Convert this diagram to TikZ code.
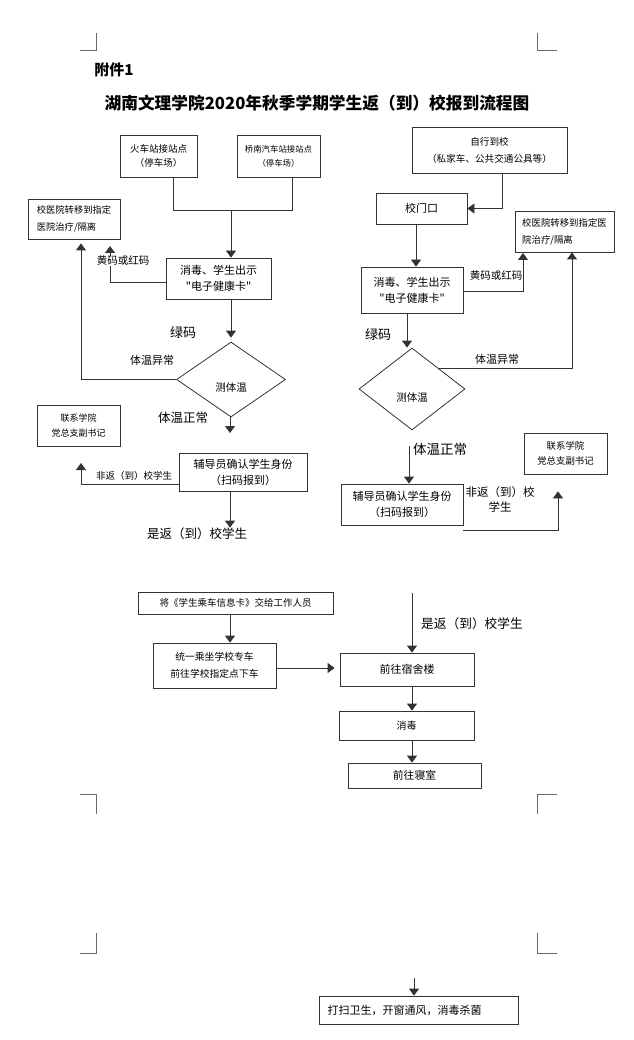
\documentclass[tikz,border=0pt]{standalone}
\usepackage{fontspec}
\setmainfont{Noto Sans CJK SC}[Ligatures=TeXOff]
\usetikzlibrary{arrows.meta, shapes.geometric}

\begin{document}
\begin{tikzpicture}[
  x=1pt, y=-1pt,
  box/.style={rectangle, draw=black!80, line width=0.8pt, align=center,
              inner sep=0pt, font=\fontsize{9.5}{14}\selectfont},
  dec/.style={diamond, draw=black!80, line width=0.8pt, inner sep=0pt},
  lbl/.style={inner sep=0pt, align=center},
  arr/.style={-{Triangle[width=10pt,length=7pt]}},
  line width=0.8pt, draw=black!80
]
\fill[white] (0,0) rectangle (633,1040);
\useasboundingbox (0,0) rectangle (633,1040);

% page corner marks
\draw[line width=0.6pt, black!60] (80,50) -- (96,50) -- (96,33);
\draw[line width=0.6pt, black!60] (557,50) -- (537,50) -- (537,33);
\draw[line width=0.6pt, black!60] (80,794) -- (96,794) -- (96,814);
\draw[line width=0.6pt, black!60] (557,794) -- (537,794) -- (537,814);
\draw[line width=0.6pt, black!60] (96,933) -- (96,953) -- (80,953);
\draw[line width=0.6pt, black!60] (537,933) -- (537,953) -- (557,953);

\node[lbl, anchor=west, font=\fontsize{15}{15}\selectfont\bfseries] (fj) at (94,70) {附件1};
\node[lbl, font=\fontsize{16.7}{17}\selectfont\bfseries] (title) at (317,103)
  {湖南文理学院2020年秋季学期学生返（到）校报到流程图};

\coordinate (cx) at (230,0);

% left column
\node[box, minimum width=77pt, minimum height=42pt] (hcz) at (158.5,156) {火车站接站点\\（停车场）};
\node[box, minimum width=83pt, minimum height=42pt, font=\fontsize{8.4}{14}\selectfont] (qnz) at (278.5,156) {桥南汽车站接站点\\（停车场）};
\node[box, minimum width=105pt, minimum height=41pt, font=\fontsize{11}{16}\selectfont] (xdL) at (218.5,278.5) {消毒、学生出示\\"电子健康卡"};
\node[box, minimum width=92pt, minimum height=40pt, align=left, font=\fontsize{9.3}{17}\selectfont] (yyL) at (74,219) {校医院转移到指定\\医院治疗/隔离};
\node[dec, minimum width=109pt, minimum height=75pt,
      label={[lbl, yshift=-8.5pt, font=\fontsize{10.5}{12}\selectfont]center:测体温}] (ceL) at (231,379.5) {};
\node[box, minimum width=128pt, minimum height=38pt, font=\fontsize{11}{16}\selectfont] (fdL) at (243,472) {辅导员确认学生身份\\（扫码报到）};
\node[box, minimum width=83pt, minimum height=41pt, font=\fontsize{9}{15}\selectfont] (lxL) at (78.5,425.5) {联系学院\\党总支副书记};

\coordinate (jL) at (231,210);
\coordinate (yL1) at (110,246);
\coordinate (aL) at (81,379.5);
\coordinate (zcL) at (230,433);
\coordinate (fL1) at (81,463);

\draw ([xshift=14.5pt]hcz.south) |- (jL);
\draw ([xshift=13.5pt]qnz.south) |- (jL);
\draw[arr] (jL) -- (jL |- xdL.north);
\draw[arr] ([yshift=-3.5pt]xdL.west) -| (yL1);
\node[lbl, fill=white, font=\fontsize{10.5}{12}\selectfont] (hmL) at (123,261) {黄码或红码};
\draw[arr, shorten >=4pt] (xdL.south -| jL) -- (ceL.north);
\node[lbl, font=\fontsize{13}{14}\selectfont] (lmL) at (183,333) {绿码};
\draw[arr, shorten >=4pt] (ceL.west) -- (aL) -- (aL |- yyL.south);
\node[lbl, font=\fontsize{11}{12}\selectfont] (ycL) at (152,360) {体温异常};
\draw[arr] (ceL.south -| zcL) -- (zcL);
\node[lbl, font=\fontsize{12.5}{13}\selectfont] (zcLt) at (183,418) {体温正常};
\draw[arr] ([yshift=-12pt]fdL.west) -| (fL1);
\node[lbl, font=\fontsize{9.5}{12}\selectfont] (ffL) at (134,476) {非返（到）校学生};
\node[lbl, font=\fontsize{12.5}{13}\selectfont] (sfL) at (197,534) {是返（到）校学生};
\draw[arr] (fdL.south -| cx) -- (sfL.north -| cx);

% right column
\node[box, minimum width=155pt, minimum height=46pt, font=\fontsize{9.6}{17}\selectfont] (zx) at (489.5,150) {自行到校\\（私家车、公共交通公具等）};
\node[box, minimum width=91pt, minimum height=31pt, font=\fontsize{11}{12}\selectfont] (xm) at (421.5,208.5) {校门口};
\node[box, minimum width=102pt, minimum height=46pt, font=\fontsize{11}{16}\selectfont] (xdR) at (412,290) {消毒、学生出示\\"电子健康卡"};
\node[box, minimum width=99pt, minimum height=41pt, align=left, font=\fontsize{9.4}{17}\selectfont] (yyR) at (564.5,231.5) {校医院转移到指定医\\院治疗/隔离};
\node[dec, minimum width=106pt, minimum height=82pt,
      label={[lbl, yshift=-9pt, font=\fontsize{10.5}{12}\selectfont]center:测体温}] (ceR) at (412,389) {};
\node[box, minimum width=122pt, minimum height=41pt, font=\fontsize{11}{16}\selectfont] (fdR) at (402,504.5) {辅导员确认学生身份\\（扫码报到）};
\node[box, minimum width=83pt, minimum height=41pt, font=\fontsize{9.4}{15}\selectfont] (lxR) at (565.5,453.5) {联系学院\\党总支副书记};

\coordinate (yR1) at (523,253);
\coordinate (zcR) at (409,446);
\coordinate (fR1) at (463,530);

\draw[arr] ([xshift=12.5pt]zx.south) |- (xm.east);
\draw[arr] ([xshift=-5.5pt]xm.south) -- ([xshift=4pt]xdR.north);
\draw[arr] ([yshift=-1pt]xdR.east) -| (yR1);
\node[lbl, font=\fontsize{10.5}{12}\selectfont] (hmR) at (496,276) {黄码或红码};
\draw[arr] ([xshift=-5pt]xdR.south) -- ([xshift=-5pt]ceR.north);
\node[lbl, font=\fontsize{13}{14}\selectfont] (lmR) at (378,335) {绿码};
\draw[arr] (ceR.north east) -| ([xshift=7.5pt]yyR.south);
\node[lbl, font=\fontsize{11}{12}\selectfont] (ycR) at (497,359) {体温异常};
\draw[arr] (zcR) -- (zcR |- fdR.north);
\node[lbl, font=\fontsize{13.5}{14}\selectfont] (zcRt) at (440,449) {体温正常};
\draw[arr] (fR1) -| ([xshift=-7.5pt,yshift=-17pt]lxR.south);
\node[lbl, font=\fontsize{11.5}{15}\selectfont] (ffR) at (500,500) {非返（到）校\\学生};

% bus and dormitory
\node[box, minimum width=195pt, minimum height=22pt] (jk) at (235.5,603) {将《学生乘车信息卡》交给工作人员};
\node[box, minimum width=123pt, minimum height=45pt, font=\fontsize{9.8}{17}\selectfont] (zc) at (214.5,665.5) {统一乘坐学校专车\\前往学校指定点下车};
\node[box, minimum width=134pt, minimum height=33pt, font=\fontsize{11}{12}\selectfont] (ssl) at (407,669.5) {前往宿舍楼};
\node[box, minimum width=135pt, minimum height=29pt, font=\fontsize{10}{12}\selectfont] (xd2) at (406.5,725.5) {消毒};
\node[box, minimum width=133pt, minimum height=25pt, font=\fontsize{10.8}{12}\selectfont] (qs) at (414.5,775.5) {前往寝室};
\node[box, minimum width=199pt, minimum height=28pt, text width=182pt, align=left, font=\fontsize{11}{12}\selectfont] (ds) at (418.5,1010) {打扫卫生，开窗通风，消毒杀菌};

\coordinate (sfB) at (412,593);
\coordinate (dsT) at (414,978);

\draw[arr] (jk.south -| cx) -- (zc.north -| cx);
\draw[arr, shorten >=5pt] ([yshift=-2.5pt]zc.east) -- ([yshift=-2.5pt]zc.east -| ssl.west);
\draw[arr] (sfB) -- (sfB |- ssl.north);
\node[lbl, font=\fontsize{12.7}{13}\selectfont] (sfBt) at (472,624) {是返（到）校学生};
\draw[arr] (ssl.south -| sfB) -- (xd2.north -| sfB);
\draw[arr] (xd2.south -| sfB) -- (qs.north -| sfB);
\draw[arr] (dsT) -- (dsT |- ds.north);
\end{tikzpicture}
\end{document}
